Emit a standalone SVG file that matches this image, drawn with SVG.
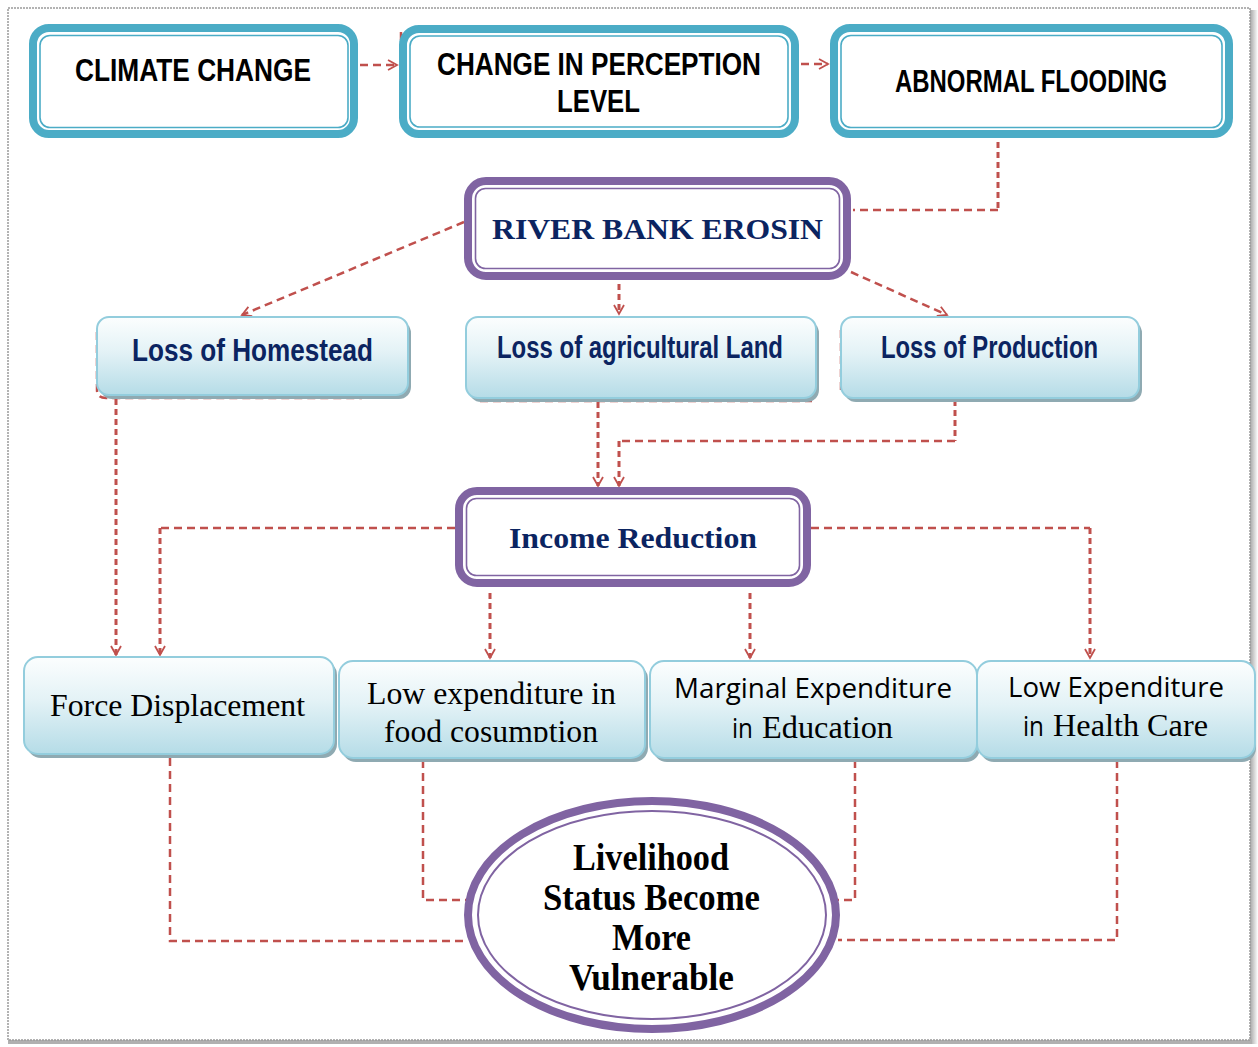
<svg xmlns="http://www.w3.org/2000/svg" width="1258" height="1047" viewBox="0 0 1258 1047">
<defs>
<style>
.teal{fill:#fff;stroke:#4BACC6;stroke-width:8}
.tealin{fill:none;stroke:#4BACC6;stroke-width:1.6}
.purp{fill:#fff;stroke:#8064A2;stroke-width:8}
.purpin{fill:none;stroke:#8064A2;stroke-width:1.6}
.lb{fill:url(#lbg);stroke:#93CDDD;stroke-width:2}
.sh{fill:#8FAAB2}
.cap{font-family:"Liberation Sans",Arial,sans-serif;font-weight:bold;font-size:32px;fill:#000;text-anchor:middle}
.loss{font-family:"Liberation Sans",Arial,sans-serif;font-weight:bold;font-size:31px;fill:#0B2461;text-anchor:middle}
.tb{font-family:"Liberation Serif","Times New Roman",serif;font-weight:bold;font-size:30px;fill:#0B2461;text-anchor:middle}
.tr{font-family:"Liberation Serif","Times New Roman",serif;font-size:31px;fill:#000}
.sn{font-family:"Open Sans","Noto Sans","Liberation Sans",sans-serif;font-size:27px;fill:#000}
.el{font-family:"Liberation Serif","Times New Roman",serif;font-weight:bold;font-size:37px;fill:#000;text-anchor:middle}
.c{fill:none;stroke:#C0504D;stroke-width:2.5;stroke-dasharray:8 5}
.cv{fill:none;stroke:#C0504D;stroke-width:3;stroke-dasharray:6 4}
.ca{marker-end:url(#arr)}
</style>
<linearGradient id="lbg" x1="0" y1="0" x2="0" y2="1">
<stop offset="0" stop-color="#FCFEFE"/>
<stop offset="0.45" stop-color="#E3F2F6"/>
<stop offset="1" stop-color="#B5DCE7"/>
</linearGradient>
<linearGradient id="rsh" x1="0" y1="0" x2="1" y2="0">
<stop offset="0" stop-color="#9A9A9A"/>
<stop offset="1" stop-color="#FFFFFF"/>
</linearGradient>
<marker id="arr" viewBox="0 0 12 12" refX="10" refY="6" markerWidth="12" markerHeight="12" orient="auto" markerUnits="userSpaceOnUse">
<path d="M1,1 L10,6 L1,11" fill="none" stroke="#C0504D" stroke-width="1.8"/>
</marker>
<clipPath id="clipfood"><rect x="339" y="661" width="306" height="81"/></clipPath>
</defs>

<g id="page">
<rect x="0" y="0" width="1258" height="1047" fill="#fff"/>
<rect x="1249" y="10" width="9" height="1034" fill="url(#rsh)"/>
<rect x="8" y="1039" width="1244" height="5" fill="#B0B0B0"/>
<rect x="8" y="8" width="1242" height="1032" fill="#fff" stroke="#9A9A9A" stroke-width="1.5" stroke-dasharray="2 1"/>
</g>

<g id="connectors">
<path class="c ca" d="M360,65 L397,65"/>
<path class="c ca" d="M801,64 L828,64"/>
<path class="c" d="M401,32 L401,92"/>
<path class="cv" d="M998,142 L998,210"/>
<path class="c" d="M998,210 L853,210"/>
<path class="c ca" d="M464,222 L242,315"/>
<path class="cv ca" d="M619,284 L619,314"/>
<path class="c ca" d="M851,272 L947,315"/>
<path class="c" d="M97,332 L97,390 Q97,398 106,398 L362,398"/>
<path class="c" d="M480,401 L812,401"/>
<path class="c" d="M841,330 L841,392"/>
<path class="c" d="M858,399 L1100,399"/>
<path class="cv ca" d="M116,399 L116,655"/>
<path class="cv ca" d="M598,402 L598,486"/>
<path class="cv" d="M955,400 L955,441"/>
<path class="c" d="M955,441 L619,441"/>
<path class="cv ca" d="M619,441 L619,486"/>
<path class="c" d="M455,528 L160,528"/>
<path class="cv ca" d="M160,528 L160,655"/>
<path class="c" d="M811,528 L1090,528"/>
<path class="cv ca" d="M1090,528 L1090,658"/>
<path class="cv ca" d="M490,593 L490,658"/>
<path class="cv ca" d="M750,593 L750,658"/>
<path class="c" d="M170,758 L170,941 L466,941"/>
<path class="c" d="M423,760 L423,900 L466,900"/>
<path class="c" d="M855,760 L855,900 L838,900"/>
<path class="c" d="M1117,760 L1117,940 L838,940"/>
</g>

<g id="climate-change">
<rect class="teal" x="33" y="28" width="321" height="106" rx="16"/>
<rect class="tealin" x="40" y="35.5" width="308" height="92" rx="10"/>
<text class="cap" x="193" y="81" textLength="236" lengthAdjust="spacingAndGlyphs">CLIMATE CHANGE</text>
</g>

<g id="change-perception">
<rect class="teal" x="403" y="29" width="392" height="105" rx="16"/>
<rect class="tealin" x="410" y="36" width="378" height="91" rx="10"/>
<text class="cap" x="599" y="75" textLength="324" lengthAdjust="spacingAndGlyphs">CHANGE IN PERCEPTION</text>
<text class="cap" x="598.5" y="112" textLength="83" lengthAdjust="spacingAndGlyphs">LEVEL</text>
</g>

<g id="abnormal-flooding">
<rect class="teal" x="834" y="28" width="395" height="106" rx="16"/>
<rect class="tealin" x="841" y="35.5" width="381" height="92" rx="10"/>
<text class="cap" x="1031" y="92" textLength="272" lengthAdjust="spacingAndGlyphs">ABNORMAL FLOODING</text>
</g>

<g id="river-bank-erosin">
<rect class="purp" x="468" y="181" width="379" height="95" rx="18"/>
<rect class="purpin" x="475.5" y="188.5" width="364" height="80" rx="10"/>
<text class="tb" x="657.5" y="239" textLength="331" lengthAdjust="spacingAndGlyphs">RIVER BANK EROSIN</text>
</g>

<g id="loss-homestead">
<rect class="sh" x="100" y="321" width="311" height="78" rx="12"/>
<rect class="lb" x="97" y="317" width="311" height="78" rx="12"/>
<text class="loss" x="252.5" y="361" textLength="241" lengthAdjust="spacingAndGlyphs">Loss of Homestead</text>
</g>

<g id="loss-agri-land">
<rect class="sh" x="469" y="321" width="350" height="81" rx="12"/>
<rect class="lb" x="466" y="317" width="350" height="81" rx="12"/>
<text class="loss" x="640" y="358" font-size="28" textLength="286" lengthAdjust="spacingAndGlyphs">Loss of agricultural Land</text>
</g>

<g id="loss-production">
<rect class="sh" x="844" y="321" width="298" height="81" rx="12"/>
<rect class="lb" x="841" y="317" width="298" height="81" rx="12"/>
<text class="loss" x="989.5" y="358" font-size="28" textLength="217" lengthAdjust="spacingAndGlyphs">Loss of Production</text>
</g>

<g id="income-reduction">
<rect class="purp" x="459" y="491" width="348" height="92" rx="18"/>
<rect class="purpin" x="466.5" y="498.5" width="333" height="77" rx="10"/>
<text class="tb" x="633" y="548" textLength="248" lengthAdjust="spacingAndGlyphs">Income Reduction</text>
</g>

<g id="force-displacement">
<rect class="sh" x="27" y="661" width="310" height="97" rx="14"/>
<rect class="lb" x="24" y="657" width="310" height="97" rx="14"/>
<text class="tr" x="50" y="716" textLength="255" lengthAdjust="spacingAndGlyphs">Force Displacement</text>
</g>

<g id="low-exp-food">
<rect class="sh" x="342" y="665" width="306" height="97" rx="14"/>
<rect class="lb" x="339" y="661" width="306" height="97" rx="14"/>
<text class="tr" x="367" y="704" textLength="249" lengthAdjust="spacingAndGlyphs">Low expenditure in</text>
<text class="tr" x="384" y="742" clip-path="url(#clipfood)" textLength="214" lengthAdjust="spacingAndGlyphs">food cosumption</text>
</g>

<g id="marginal-exp-education">
<rect class="sh" x="653" y="665" width="327" height="97" rx="14"/>
<rect class="lb" x="650" y="661" width="327" height="97" rx="14"/>
<text class="sn" x="674" y="698" textLength="278" lengthAdjust="spacingAndGlyphs">Marginal Expenditure</text>
<text y="738"><tspan class="sn" x="732" textLength="21" lengthAdjust="spacingAndGlyphs">in</tspan><tspan class="tr" x="762" textLength="131" lengthAdjust="spacingAndGlyphs">Education</tspan></text>
</g>

<g id="low-exp-health">
<rect class="sh" x="980" y="665" width="276" height="97" rx="14"/>
<rect class="lb" x="977" y="661" width="278" height="97" rx="14"/>
<text class="sn" x="1008" y="697" textLength="216" lengthAdjust="spacingAndGlyphs">Low Expenditure</text>
<text y="736"><tspan class="sn" x="1023" textLength="21" lengthAdjust="spacingAndGlyphs">in</tspan><tspan class="tr" x="1053" textLength="155" lengthAdjust="spacingAndGlyphs">Health Care</tspan></text>
</g>

<g id="livelihood">
<ellipse cx="652" cy="915" rx="184" ry="114" fill="#fff" stroke="#8064A2" stroke-width="8"/>
<ellipse cx="652" cy="915" rx="174" ry="104" fill="none" stroke="#8064A2" stroke-width="2"/>
<text class="el" x="651" y="870" textLength="156" lengthAdjust="spacingAndGlyphs">Livelihood</text>
<text class="el" x="651.5" y="910" textLength="217" lengthAdjust="spacingAndGlyphs">Status Become</text>
<text class="el" x="651.5" y="950" textLength="79" lengthAdjust="spacingAndGlyphs">More</text>
<text class="el" x="651.5" y="990" textLength="165" lengthAdjust="spacingAndGlyphs">Vulnerable</text>
</g>
</svg>
